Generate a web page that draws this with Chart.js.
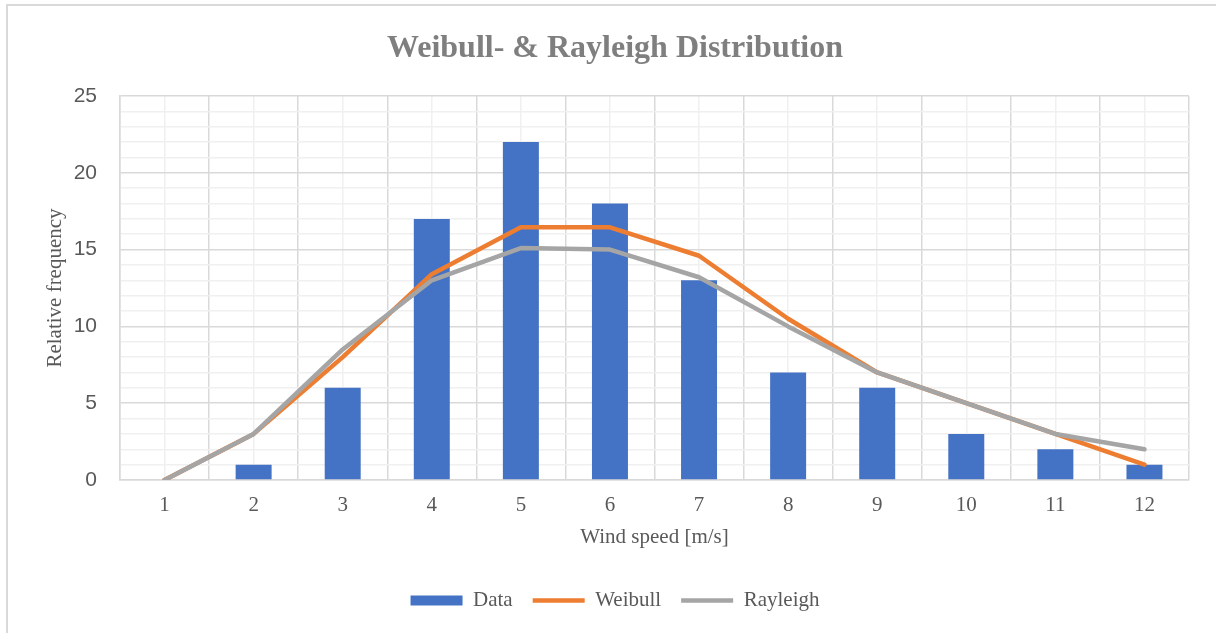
<!DOCTYPE html>
<html>
<head>
<meta charset="utf-8">
<title>Weibull- & Rayleigh Distribution</title>
<script src="https://cdn.jsdelivr.net/npm/chart.js@4/dist/chart.umd.min.js"></script>
<style>
  html, body { margin: 0; padding: 0; background: #ffffff; }
  #wrap { width: 1216px; height: 633px; }
</style>
</head>
<body>
<div id="wrap"><canvas id="chart" width="1216" height="633"></canvas></div>
<script>
// Wind speed bins [m/s]
const windSpeeds = ['1', '2', '3', '4', '5', '6', '7', '8', '9', '10', '11', '12'];
// Measured relative frequency per bin
const measured = [0, 1, 6, 17, 22, 18, 13, 7, 6, 3, 2, 1];
// Fitted Weibull distribution
const weibull = [0, 3, 8, 13.4, 16.45, 16.45, 14.6, 10.5, 7, 5, 3, 1];
// Fitted Rayleigh distribution
const rayleigh = [0, 3, 8.5, 13, 15.1, 15, 13.2, 10, 7, 5, 3, 2];

const serif = "'Liberation Serif', 'Times New Roman', serif";
const sans = "'Liberation Sans', Arial, sans-serif";
const majorGrid = '#d9d9d9';
const minorGrid = '#f0f0f0';

// Light frame around the chart
const framePlugin = {
  id: 'frame',
  beforeDraw(chart) {
    const ctx = chart.ctx;
    ctx.save();
    ctx.strokeStyle = '#d9d9d9';
    ctx.lineWidth = 2;
    ctx.beginPath();
    ctx.moveTo(7, 633);
    ctx.lineTo(7, 5);
    ctx.lineTo(1216, 5);
    ctx.stroke();
    ctx.restore();
  }
};

new Chart(document.getElementById('chart'), {
  type: 'bar',
  data: {
    labels: windSpeeds,
    datasets: [
      {
        type: 'bar',
        label: 'Data',
        data: measured,
        backgroundColor: '#4472C4',
        barPercentage: 0.404,
        categoryPercentage: 1,
        pointStyle: 'rect',
        order: 3
      },
      {
        type: 'line',
        label: 'Weibull',
        data: weibull,
        borderColor: '#ED7D31',
        backgroundColor: '#ED7D31',
        borderWidth: 4.5,
        borderCapStyle: 'round',
        borderJoinStyle: 'round',
        pointRadius: 0,
        pointStyle: 'line',
        tension: 0,
        fill: false,
        order: 2
      },
      {
        type: 'line',
        label: 'Rayleigh',
        data: rayleigh,
        borderColor: '#A5A5A5',
        backgroundColor: '#A5A5A5',
        borderWidth: 4.5,
        borderCapStyle: 'round',
        borderJoinStyle: 'round',
        pointRadius: 0,
        pointStyle: 'line',
        tension: 0,
        fill: false,
        order: 1
      }
    ]
  },
  options: {
    responsive: false,
    animation: false,
    events: [],
    layout: { padding: { top: 15, left: 14, right: 0, bottom: 12 } },
    plugins: {
      tooltip: { enabled: false },
      title: {
        display: true,
        text: 'Weibull- & Rayleigh Distribution',
        color: '#7f7f7f',
        font: { family: serif, size: 32, weight: 'bold' },
        padding: { top: 15, bottom: 27.6 }
      },
      legend: {
        position: 'bottom',
        labels: {
          usePointStyle: true,
          pointStyleWidth: 52,
          boxHeight: 10,
          padding: 20,
          color: '#595959',
          font: { family: serif, size: 21 },
          sort: (a, b) => a.datasetIndex - b.datasetIndex
        }
      }
    },
    scales: {
      x: {
        type: 'category',
        offset: true,
        grid: { offset: true, color: majorGrid, lineWidth: 1.5, drawTicks: false },
        border: { display: true, color: majorGrid, width: 1.5 },
        ticks: { color: '#595959', font: { family: serif, size: 21 }, padding: 13 },
        title: {
          display: true,
          text: 'Wind speed [m/s]',
          color: '#595959',
          font: { family: serif, size: 21 },
          padding: { top: 0, bottom: 20.4 }
        },
        afterFit(scale) { scale.height = 90; }
      },
      xMinor: {
        type: 'category',
        position: 'bottom',
        offset: true,
        grid: { offset: false, color: minorGrid, lineWidth: 1.5, drawTicks: false },
        border: { display: false },
        ticks: { display: false },
        afterFit(scale) { scale.height = 0; }
      },
      y: {
        min: 0,
        max: 25,
        ticks: {
          stepSize: 1,
          autoSkip: false,
          color: '#595959',
          font: { family: sans, size: 21 },
          padding: 23,
          callback: v => (v % 5 === 0 ? v : '')
        },
        grid: {
          color: c => (c.tick && c.tick.value % 5 === 0 ? majorGrid : minorGrid),
          lineWidth: 1.5,
          drawTicks: false
        },
        border: { display: true, color: majorGrid, width: 1.5 },
        title: {
          display: true,
          text: 'Relative frequency',
          color: '#595959',
          font: { family: serif, size: 21 },
          padding: { top: 28.4, bottom: 0 }
        },
        afterFit(scale) { scale.width = 106; }
      },
      // empty right-hand margin next to the plot area
      yMargin: {
        position: 'right',
        min: 0,
        max: 25,
        grid: { display: false, drawTicks: false },
        border: { display: false },
        ticks: { display: false },
        afterFit(scale) { scale.width = 27; }
      }
    }
  },
  plugins: [framePlugin]
});
</script>
</body>
</html>
